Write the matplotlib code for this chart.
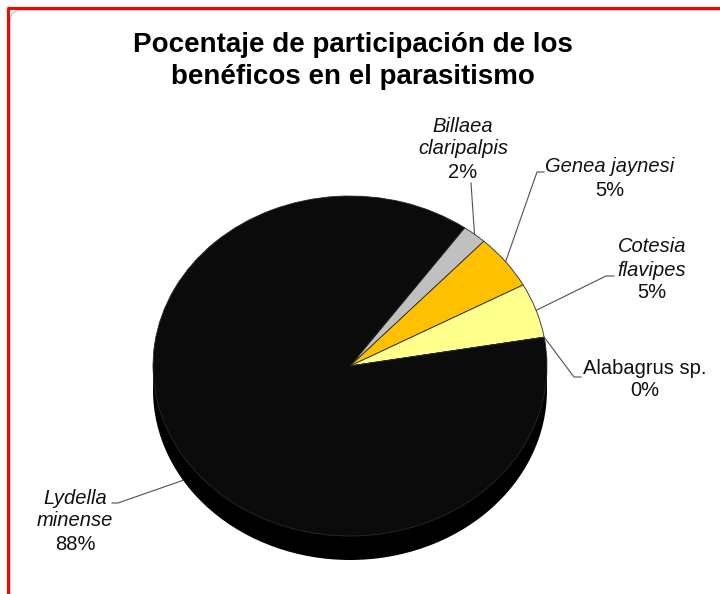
import matplotlib
matplotlib.use("Agg")
import matplotlib.pyplot as plt
from matplotlib.patches import Circle, Rectangle, FancyBboxPatch
import numpy as np

plt.rcParams['font.family'] = ['Liberation Sans', 'DejaVu Sans']

# share of each beneficial species in parasitism (%)
species = [['Billaea', 'claripalpis'], ['Genea jaynesi'], ['Cotesia', 'flavipes'],
           ['Alabagrus sp.'], ['Lydella', 'minense']]
italic = [True, True, True, False, True]
share = [2.0, 5.2, 5.2, 0.0, 87.6]
colors = ['#c0c0c0', '#ffc000', '#ffff8c', '#ffff8c', '#0b0b0b']

W, H = 720, 594
fig = plt.figure(figsize=(W / 100, H / 100), dpi=100)

# pie geometry in pixels: centre, horizontal / vertical radius, depth of the rim
cx, cy, rx, ry, depth = 350, 366, 197, 170, 24
ax_pie = fig.add_axes([(cx - rx) / W, (H - cy - ry) / H, 2 * rx / W, 2 * ry / H])
d = depth / ry

# rim of the tilted disc
ax_pie.add_patch(Circle((0, -d), 1, facecolor='black', edgecolor='none',
                        zorder=0.5, clip_on=False))
ax_pie.add_patch(Rectangle((-1, -d), 2, d, facecolor='black', edgecolor='none',
                           zorder=0.5, clip_on=False))

wedges, _ = ax_pie.pie(share, colors=colors, startangle=54.4, counterclock=False,
                       wedgeprops=dict(edgecolor='#2a2a2a', linewidth=0.6))
ax_pie.set_aspect('auto')
ax_pie.set_xlim(-1, 1)
ax_pie.set_ylim(-1, 1)
ax_pie.axis('off')

# overlay in pixel coordinates for frame, title and labels
ax = fig.add_axes([0, 0, 1, 1])
ax.set_xlim(0, W)
ax.set_ylim(H, 0)
ax.axis('off')

ax.add_patch(FancyBboxPatch((10, 10), W + 20, H + 20,
                            boxstyle='round,pad=0,rounding_size=12',
                            facecolor='none', edgecolor='#c8c8c8', lw=1))
ax.plot([8, 8], [8, H + 2], color='#ff0000', lw=2.2, solid_capstyle='butt')
ax.plot([7, W + 2], [8, 8], color='#ff0000', lw=2.2, solid_capstyle='butt')

ax.text(353, 45, 'Pocentaje de participación de los', ha='center', va='center',
        fontsize=20, fontweight='bold')
ax.text(353, 77, 'benéficos en el parasitismo', ha='center', va='center',
        fontsize=20, fontweight='bold')

# label block: text centre x, first line y, elbow, stub end
label_x = [463, 610, 652, 645, 75]
label_y = [126, 167, 247, 368, 498]
elbow = [(471, 183), (537, 172), (606, 276), (574, 377), (118, 503)]
stub = [(471, 183), (544, 172), (614, 276), (581, 377), (112, 503)]

to_px = lambda p: ax.transData.inverted().transform(ax_pie.transData.transform(p))

for i, w in enumerate(wedges):
    lines = species[i] + ['%d%%' % round(share[i] / sum(share) * 100)]
    for k, s in enumerate(lines):
        style = 'italic' if (italic[i] and k < len(lines) - 1) else 'normal'
        ax.text(label_x[i], label_y[i] + 23 * k, s, ha='center', va='center',
                fontsize=14.5, style=style, color='#111111')
    mid = np.radians((w.theta1 + w.theta2) / 2)
    px, py = np.cos(mid), np.sin(mid)
    if py < 0:
        py -= d
    ax_x, ax_y = to_px((px, py))
    ax.plot([ax_x, elbow[i][0], stub[i][0]], [ax_y, elbow[i][1], stub[i][1]],
            color='#505050', lw=0.8)

fig.savefig('out.png', dpi=100)
